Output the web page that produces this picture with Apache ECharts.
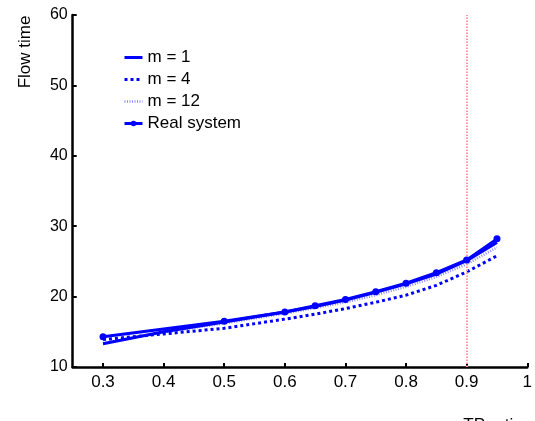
<!DOCTYPE html>
<html>
<head>
<meta charset="utf-8">
<script src="https://cdn.jsdelivr.net/npm/echarts@6/dist/echarts.min.js"></script>
<style>
html,body{margin:0;padding:0;background:#fff;}
#chart{width:535px;height:421px;}
</style>
</head>
<body>
<div id="chart"></div>
<script>
// ---- data ----
const modelX = [0.3, 0.4, 0.5, 0.6, 0.65, 0.7, 0.75, 0.8, 0.85, 0.9, 0.95];
const m1 =  [13.3, 15.0, 16.4, 17.8, 18.6, 19.5, 20.6, 21.8, 23.2, 25.1, 27.7];
const m4 =  [13.9, 14.7, 15.5, 16.8, 17.5, 18.3, 19.2, 20.2, 21.6, 23.5, 25.8];
const m12 = [13.4, 14.9, 16.2, 17.6, 18.4, 19.2, 20.2, 21.4, 22.8, 24.6, 27.0];
const realX = [0.3, 0.5, 0.6, 0.65, 0.7, 0.75, 0.8, 0.85, 0.9, 0.95];
const real = [14.3, 16.5, 17.8, 18.7, 19.6, 20.7, 21.9, 23.4, 25.2, 28.2];
const threshold = 0.9;
const seriesNames = ['m = 1', 'm = 4', 'm = 12', 'Real system'];
const xTitle = 'TP ratio';
const yTitle = 'Flow time';

const zip = (xs, ys) => xs.map((x, i) => [x, ys[i]]);
const FONT = "'Liberation Sans', Arial, Helvetica, sans-serif";
const BLUE = '#0000ff';

const chart = echarts.init(document.getElementById('chart'), null, {renderer: 'canvas'});
chart.setOption({
  animation: false,
  backgroundColor: '#ffffff',
  textStyle: {fontFamily: FONT, color: '#000'},
  grid: {left: 72.7, right: 1.7, top: 15, bottom: 54, containLabel: false},
  legend: {
    data: seriesNames.map((n, i) => i < 3 ? {name: n, itemStyle: {opacity: 0}} : {name: n}),
    orient: 'vertical',
    left: 123,
    top: 49,
    padding: 0,
    itemWidth: 18,
    itemHeight: 7,
    itemGap: 5,
    lineStyle: {width: 'inherit'},
    textStyle: {fontSize: 17, color: '#000', fontFamily: FONT}
  },
  xAxis: {
    type: 'value',
    min: 0.25,
    max: 1.0,
    minInterval: 0.1,
    maxInterval: 0.1,
    splitNumber: 8,
    splitLine: {show: false},
    axisLine: {lineStyle: {color: '#000', width: 2.5}},
    axisTick: {inside: true, length: 4, lineStyle: {color: '#000', width: 2}},
    axisLabel: {showMinLabel: false, fontSize: 17, color: '#000', margin: 7, fontFamily: FONT}
  },
  yAxis: {
    type: 'value',
    min: 10,
    max: 60,
    interval: 10,
    splitLine: {show: false},
    axisLine: {show: true, lineStyle: {color: '#000', width: 2.5}},
    axisTick: {show: true, inside: true, length: 4, lineStyle: {color: '#000', width: 2}},
    axisLabel: {fontSize: 16, color: '#000', margin: 5, fontFamily: FONT}
  },
  graphic: [
    {type: 'text', x: 25, y: 52, rotation: Math.PI / 2,
     style: {text: yTitle, font: '17px ' + FONT, fill: '#000', textAlign: 'center', textVerticalAlign: 'middle'}},
    {type: 'text', x: 493, y: 417,
     style: {text: xTitle, font: '17px ' + FONT, fill: '#000', textAlign: 'center', textVerticalAlign: 'top'}}
  ],
  series: [
    {
      name: 'm = 12', type: 'line', data: zip(modelX, m12), showSymbol: false, symbol: 'none',
      lineStyle: {color: '#8a8aff', width: 2.5, type: [1, 1.5]}, itemStyle: {color: '#8a8aff'}, z: 2,
      markLine: {
        silent: true, symbol: 'none', label: {show: false},
        lineStyle: {color: '#ff9999', width: 2, type: [1.5, 1.5]},
        data: [{xAxis: threshold}]
      }
    },
    {
      name: 'm = 4', type: 'line', data: zip(modelX, m4), showSymbol: false, symbol: 'none',
      lineStyle: {color: BLUE, width: 3, type: [3, 3]}, itemStyle: {color: BLUE}, z: 3
    },
    {
      name: 'm = 1', type: 'line', data: zip(modelX, m1), showSymbol: false, symbol: 'none',
      lineStyle: {color: BLUE, width: 3}, itemStyle: {color: BLUE}, z: 4
    },
    {
      name: 'Real system', type: 'line', data: zip(realX, real), symbol: 'circle', symbolSize: 7,
      lineStyle: {color: BLUE, width: 3}, itemStyle: {color: BLUE}, z: 5
    }
  ]
});
</script>
</body>
</html>
